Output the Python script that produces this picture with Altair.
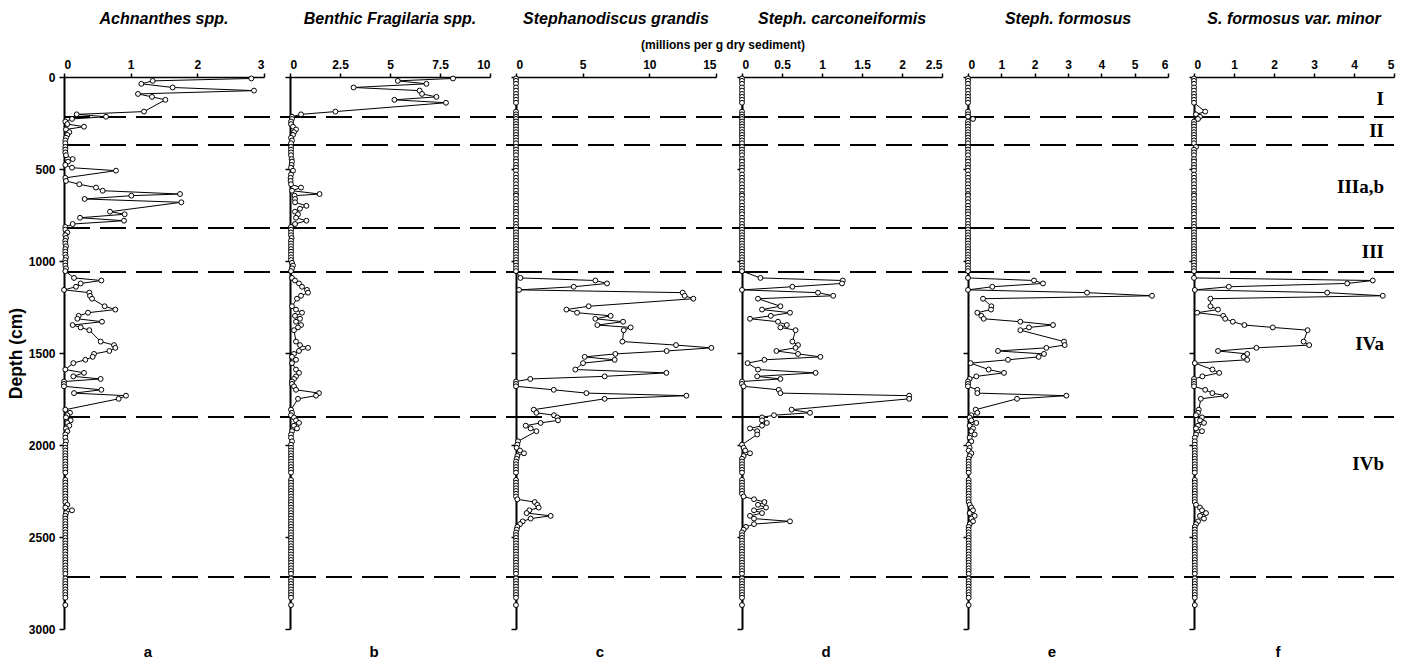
import altair as alt
import pandas as pd

N = None

# ---------------- sample depths (cm), shared by all panels ----------------
DEPTH = [
    # zone I
    8, 21, 37, 57, 74, 92, 108, 124, 140, 188, 203, 216,
    # zone II
    228, 242, 256, 270, 285, 300, 315, 330, 345, 360,
    # zone IIIa,b
    380, 395, 410, 425, 446, 460, 478, 493, 509, 530, 548, 565, 583, 601,
    618, 636, 645, 663, 681, 700, 716, 732, 746, 765, 781, 799, 815,
    # zone III
    830, 845, 860, 875, 890, 905, 920, 935, 950, 965, 980, 995, 1010, 1025, 1040, 1055,
    # zone IVa
    1092, 1106, 1122, 1140, 1157, 1172, 1189, 1205, 1246, 1264,
    1281, 1298, 1314, 1330, 1348, 1361, 1376, 1438, 1457, 1472,
    1489, 1505, 1521, 1537, 1555, 1590, 1608, 1627, 1641, 1655,
    1668, 1681, 1700, 1718, 1732, 1749, 1808, 1825, 1838, 1850,
    # zone IVb
    1866, 1880, 1895, 1910, 1925, 1943, 1960, 1980, 1998, 2015,
    2030, 2045, 2060, 2075, 2090, 2105, 2120, 2135, 2150, 2190,
    2205, 2220, 2235, 2250, 2265, 2280, 2295, 2310, 2325, 2340,
    2355, 2370, 2385, 2400, 2415, 2430, 2445, 2460, 2475, 2490,
    2505, 2520, 2535, 2550, 2565, 2580, 2595, 2610, 2625, 2640,
    2655, 2670, 2685, 2700,
    # below
    2725, 2740, 2755, 2770, 2785, 2800, 2815, 2830, 2870,
]

# ---------------- a: Achnanthes spp. ----------------
ACHNANTHES = [
    2.81, 1.33, 1.16, 1.63, 2.85, 1.11, 1.32, 1.52, N, 1.20, 0.19, 0.63,
    0.12, 0.02, 0.05, 0.30, 0.03, 0.08, 0.05, 0.03, 0.02, 0.02,
    0.02, 0.02, 0.02, 0.03, 0.13, 0.06, 0.02, 0.12, 0.78, N, 0.02, 0.03, 0.23, 0.48,
    0.58, 1.74, 1.01, 0.31, 1.76, N, N, 0.69, 0.91, 0.24, 0.90, 0.13, 0.02,
    0.02, 0.05, 0.02, 0.03, 0.02, 0.02, 0.03, 0.02, 0.02, 0.02, 0.03, 0.02, 0.02, 0.02, 0.03, 0.02,
    0.15, 0.56, 0.25, 0.18, 0.00, 0.38, 0.39, 0.42, 0.61, 0.77,
    0.36, 0.22, 0.20, 0.57, 0.13, 0.25, 0.38, 0.55, 0.75, 0.77,
    0.68, 0.45, 0.43, 0.32, 0.14, 0.02, 0.30, 0.14, 0.55, 0.00,
    0.00, 0.00, 0.56, 0.15, 0.93, 0.82, 0.02, 0.09, 0.05, 0.03,
    0.10, 0.05, 0.08, 0.03, 0.05, 0.02, 0.02, 0.03, 0.02, 0.02,
    0.02, 0.02, 0.02, 0.02, 0.02, 0.02, 0.02, 0.02, 0.02, 0.02,
    0.02, 0.02, 0.02, 0.02, 0.02, 0.02, 0.02, 0.02, 0.05, 0.02,
    0.12, 0.03, 0.02, 0.02, 0.02, 0.02, 0.02, 0.02, 0.02, 0.02,
    0.02, 0.02, 0.02, 0.02, 0.02, 0.02, 0.02, 0.02, 0.02, 0.02,
    0.02, 0.02, 0.02, 0.02,
    0.02, 0.02, 0.02, 0.02, 0.02, 0.02, 0.02, 0.02, 0.02,
]

# ---------------- b: Benthic Fragilaria spp. ----------------
FRAGILARIA = [
    8.15, 5.39, 6.82, 3.18, 6.48, 6.60, 7.32, 5.22, 7.80, 2.27, 0.55, 0.10,
    0.10, 0.05, 0.05, 0.15, 0.30, 0.20, 0.15, 0.05, 0.10, 0.05,
    0.05, 0.05, 0.05, 0.05, 0.08, 0.10, 0.08, 0.05, 0.15, 0.05, 0.03, 0.03, 0.05, 0.55,
    0.10, 1.48, 0.23, 0.25, 0.25, 0.82, 0.50, 0.25, 0.40, 0.30, 0.82, 0.25, 0.05,
    0.05, 0.05, 0.05, 0.08, 0.05, 0.05, 0.05, 0.05, 0.05, 0.05, 0.05, 0.05, 0.10, 0.15, 0.10, 0.05,
    0.10, 0.25, 0.45, 0.60, 0.85, 0.90, 0.55, 0.35, 0.10, 0.30,
    0.60, 0.25, 0.50, 0.30, 0.55, 0.40, 0.20, 0.30, 0.50, 0.90,
    0.45, 0.20, 0.10, 0.30, 0.10, 0.30, 0.45, 0.30, 0.20, 0.10,
    0.10, 0.20, 0.30, 1.45, 1.30, 0.40, 0.05, 0.10, 0.05, 0.20,
    0.30, 0.45, 0.20, 0.35, 0.10, 0.05, 0.05, 0.10, 0.05, 0.05,
    0.05, 0.05, 0.05, 0.05, 0.05, 0.05, 0.05, 0.05, 0.05, 0.05,
    0.05, 0.05, 0.05, 0.05, 0.05, 0.05, 0.05, 0.05, 0.05, 0.05,
    0.05, 0.05, 0.05, 0.05, 0.05, 0.05, 0.05, 0.05, 0.05, 0.05,
    0.05, 0.05, 0.05, 0.05, 0.05, 0.05, 0.05, 0.05, 0.05, 0.05,
    0.05, 0.05, 0.05, 0.05,
    0.05, 0.05, 0.05, 0.05, 0.05, 0.05, 0.05, 0.05, 0.05,
]

# ---------------- c: Stephanodiscus grandis ----------------
GRANDIS = [
    0, 0, 0, 0, 0, 0, 0, 0, 0, 0, 0, 0,
    0, 0, 0, 0, 0, 0, 0, 0, 0, 0,
    0, 0, 0, 0, 0, 0, 0, 0, 0, 0, 0, 0, 0, 0,
    0, 0, 0, 0, 0, 0, 0, 0, 0, 0, 0, 0, 0,
    0, 0, 0, 0, 0, 0, 0, 0, 0, 0, 0, 0, 0, 0, 0, 0,
    0.33, 5.95, 6.83, 4.33, 0.23, 12.50, 12.65, 13.30, 5.45, 3.78,
    4.58, 7.10, 5.95, 8.03, 6.10, 8.60, 8.08, 7.98, 12.00, 14.65,
    11.30, 7.45, 5.15, 7.40, 5.03, 4.45, 11.28, 6.65, 1.07, 0.00,
    0.00, 0.00, 2.83, 5.28, 12.78, 6.65, 1.33, 1.53, 2.85, 3.10,
    3.15, 1.85, 0.73, 1.10, 1.53, N, N, 0.15, 0.10, 0.05,
    0.30, 0.60, 0.10, 0.05, 0, 0, 0, 0, 0, 0,
    0, 0, 0, 0, 0, 0, 0.10, 1.40, 1.60, 1.70,
    1.00, 0.80, 2.60, 1.10, 0.50, 0.30, 0.10, 0.05, 0, 0,
    0, 0, 0, 0, 0, 0, 0, 0, 0, 0,
    0, 0, 0, 0,
    0, 0, 0, 0, 0, 0, 0, 0, 0,
]

# ---------------- d: Steph. carconeiformis ----------------
CARCONEIFORMIS = [
    0, 0, 0, 0, 0, 0, 0, 0, 0, 0, 0, 0,
    0, 0, 0, 0, 0, 0, 0, 0, 0, 0,
    0, 0, 0, 0, 0, 0, 0, 0, 0, 0, 0, 0, 0, 0,
    0, 0, 0, 0, 0, 0, 0, 0, 0, 0, 0, 0, 0,
    0, 0, 0, 0, 0, 0, 0, 0, 0, 0, 0, 0, 0, 0, 0, 0,
    0.23, 1.26, 1.25, 0.63, 0.00, 0.95, 1.14, 0.20, 0.48, 0.25,
    0.60, 0.36, 0.10, 0.45, 0.56, 0.48, 0.67, 0.63, 0.70, 0.67,
    0.43, 0.70, 0.98, 0.28, 0.07, 0.20, 0.92, 0.19, 0.48, 0.00,
    0.00, 0.02, 0.46, 0.48, 2.09, 2.09, 0.62, 0.85, 0.40, 0.25,
    0.25, 0.31, 0.25, 0.10, 0.19, 0.19, N, N, 0.00, 0.02,
    0.04, 0.10, 0.02, 0, 0, 0, 0, 0, 0, 0,
    0, 0, 0, 0, 0, 0.02, 0.15, 0.28, 0.20, 0.30,
    0.15, 0.25, 0.10, 0.15, 0.60, 0.15, 0.05, 0.02, 0, 0,
    0, 0, 0, 0, 0, 0, 0, 0, 0, 0,
    0, 0, 0, 0,
    0, 0, 0, 0, 0, 0, 0, 0, 0,
]

# ---------------- e: Steph. formosus ----------------
FORMOSUS = [
    0, 0, 0, 0, 0, 0, 0, 0, 0, 0, 0, 0,
    0.15, 0, 0, 0, 0, 0, 0, 0, 0, 0,
    0, 0, 0, 0, 0, 0, 0, 0, 0, 0, 0, 0, 0, 0,
    0, 0, 0, 0, 0, 0, 0, 0, 0, 0, 0, 0, 0,
    0, 0, 0, 0, 0, 0, 0, 0, 0, 0, 0, 0, 0, 0, 0, 0,
    0.00, 1.98, 2.25, 0.73, 0.00, 3.57, 5.52, 0.45, 0.70, 0.69,
    0.28, 0.40, 0.47, 1.57, 2.55, 1.83, 1.57, 2.88, 2.90, 2.35,
    0.90, 2.28, 2.12, 1.20, 0.08, 0.62, 1.08, 0.25, 0.05, 0.00,
    0.00, 0.00, 0.28, 0.28, 2.95, 1.47, 0.23, 0.28, 0.10, 0.05,
    0.10, 0.25, 0.05, 0.15, 0.10, 0.20, 0.05, 0.10, 0.02, 0.05,
    0.02, 0.10, 0.05, 0.02, 0.02, 0.02, 0.02, 0.02, 0.02, 0.02,
    0.02, 0.02, 0.02, 0.02, 0.02, 0.02, 0.02, 0.02, 0.05, 0.10,
    0.15, 0.05, 0.20, 0.10, 0.15, 0.05, 0.02, 0.02, 0.02, 0.02,
    0.02, 0.02, 0.02, 0.02, 0.02, 0.02, 0.02, 0.02, 0.02, 0.02,
    0.02, 0.02, 0.02, 0.02,
    0.02, 0.02, 0.02, 0.02, 0.02, 0.02, 0.02, 0.02, 0.02,
]

# ---------------- f: S. formosus var. minor ----------------
MINOR = [
    0, 0, 0, 0, 0, 0, 0, 0, 0, 0.28, 0.05, 0.15,
    0.10, 0, 0, 0, 0, 0, 0, 0, 0, 0,
    0.05, 0, 0, 0, 0, 0, 0, 0, 0, 0, 0, 0, 0, 0,
    0, 0, 0, 0, 0, 0, 0, 0, 0, 0, 0, 0, 0,
    0, 0, 0, 0, 0, 0, 0, 0, 0, 0, 0, 0, 0, 0, 0, 0,
    0.00, 4.47, 3.83, 0.87, 0.02, 3.33, 4.72, 0.41, 0.41, 0.60,
    0.08, 0.73, 0.78, 0.97, 1.26, 1.97, 2.84, 2.74, 2.88, 1.56,
    0.60, 1.33, 1.24, 1.33, 0.02, 0.46, 0.63, 0.21, 0.00, 0.00,
    0.00, 0.00, 0.28, 0.46, 0.79, 0.17, 0.12, 0.10, 0.05, 0.20,
    0.15, 0.25, 0.10, 0.05, 0.20, 0.05, 0.02, 0.02, 0.02, 0.02,
    0.02, 0.02, 0.02, 0.02, 0.02, 0.02, 0.02, 0.02, 0.02, 0.02,
    0.02, 0.02, 0.02, 0.02, 0.02, 0.02, 0.02, 0.02, 0.05, 0.15,
    0.20, 0.30, 0.15, 0.25, 0.10, 0.05, 0.02, 0.02, 0.02, 0.02,
    0.02, 0.02, 0.02, 0.02, 0.02, 0.02, 0.02, 0.02, 0.02, 0.02,
    0.02, 0.02, 0.02, 0.02,
    0.02, 0.02, 0.02, 0.02, 0.02, 0.02, 0.02, 0.02, 0.02,
]

TITLES = ["Achnanthes spp.", "Benthic Fragilaria spp.", "Stephanodiscus grandis",
          "Steph. carconeiformis", "Steph. formosus", "S. formosus var. minor"]
LETTERS = ["a", "b", "c", "d", "e", "f"]
X_MAX = [3, 10, 15, 2.5, 6, 5]
X_TICKS = [[0, 1, 2, 3], [0, 2.5, 5, 7.5, 10], [0, 5, 10, 15],
           [0, 0.5, 1, 1.5, 2, 2.5], [0, 1, 2, 3, 4, 5, 6], [0, 1, 2, 3, 4, 5]]
SERIES = [ACHNANTHES, FRAGILARIA, GRANDIS, CARCONEIFORMIS, FORMOSUS, MINOR]

ZONE_BOUNDS = [217, 370, 820, 1060, 1848, 2717]
ZONE_NAMES = ["I", "II", "IIIa,b", "III", "IVa", "IVb"]
ZONE_NAME_DEPTH = [152, 326, 630, 984, 1484, 2136]
Y_TICKS = [0, 500, 1000, 1500, 2000, 2500, 3000]
UNIT_TEXT = "(millions per g dry sediment)"

for s in SERIES:
    assert len(s) == len(DEPTH), len(s)

W, H, GAP = 200, 552, 26
SANS = "Liberation Sans"
SERIF = "Liberation Serif"


def panel(i):
    df = pd.DataFrame({"depth": DEPTH, "value": SERIES[i]}).dropna()
    first = i == 0
    yaxis = alt.Axis(
        values=Y_TICKS, labels=first, title="Depth (cm)" if first else None,
        format="d",
        grid=False, domainColor="black", domainWidth=2, tickColor="black",
        tickWidth=1.5, tickSize=5, labelFont=SANS, labelFontSize=12,
        labelFontWeight="bold", labelColor="black", labelPadding=4,
        titleFont=SANS, titleFontSize=17.5, titleFontWeight="bold",
        titleColor="black", titlePadding=3,
    )
    y = alt.Y("depth:Q", scale=alt.Scale(domain=[0, 3000], reverse=True, nice=False,
                                         zero=False), axis=yaxis)
    x = alt.X("value:Q", scale=alt.Scale(domain=[0, X_MAX[i]], nice=False, zero=True),
              axis=alt.Axis(orient="top", values=X_TICKS[i], format=".2~f", title=None,
                            grid=False, domainColor="black", domainWidth=1.5,
                            tickColor="black", tickWidth=1.5, tickSize=4,
                            labelFont=SANS, labelFontSize=12, labelFontWeight="bold",
                            labelColor="black", labelPadding=2))

    zdf = pd.DataFrame({"depth": ZONE_BOUNDS})
    rules = alt.Chart(zdf).mark_rule(color="black", strokeWidth=2,
                                     strokeDash=[26, 10]).encode(
        y=alt.Y("depth:Q"), x=alt.value(0),
        x2=alt.value(W + GAP if i < 5 else W))
    line = alt.Chart(df).mark_line(color="black", strokeWidth=1).encode(
        x=x, y=y, order="depth:Q")
    pts = alt.Chart(df).mark_circle(color="white", stroke="black", strokeWidth=1,
                                     size=24, opacity=1).encode(x=x, y=y)
    title = alt.Chart(pd.DataFrame({"t": [TITLES[i]]})).mark_text(
        font=SANS, fontSize=16, fontWeight="bold", fontStyle="italic",
        color="black", baseline="alphabetic", align="center").encode(
        text="t:N", x=alt.value(W / 2), y=alt.value(-53))
    letter = alt.Chart(pd.DataFrame({"t": [LETTERS[i]]})).mark_text(
        font=SANS, fontSize=15, fontWeight="bold", color="black",
        baseline="alphabetic", align="center").encode(
        text="t:N", x=alt.value(84), y=alt.value(580))
    layers = [rules, line, pts, title, letter]
    if i == 2:
        unit = alt.Chart(pd.DataFrame({"t": [UNIT_TEXT]})).mark_text(
            font=SANS, fontSize=12, fontWeight="bold", color="black",
            baseline="alphabetic", align="center").encode(
            text="t:N", x=alt.value(207), y=alt.value(-28))
        layers.append(unit)
    if i == 5:
        zl = alt.Chart(pd.DataFrame({"name": ZONE_NAMES, "depth": ZONE_NAME_DEPTH})).mark_text(
            font=SERIF, fontSize=19, fontWeight="bold", color="black",
            baseline="alphabetic", align="right").encode(
            text="name:N", y=alt.Y("depth:Q"), x=alt.value(190))
        layers.append(zl)
    return alt.layer(*layers).properties(width=W, height=H)


chart = alt.hconcat(*[panel(i) for i in range(6)], spacing=GAP, bounds="flush").properties(
    padding={"left": 7, "top": 11, "right": 5, "bottom": 5},
    background="white",
).configure_view(stroke=None)

chart.save("out.html", embed_options={"renderer": "svg", "actions": False})
